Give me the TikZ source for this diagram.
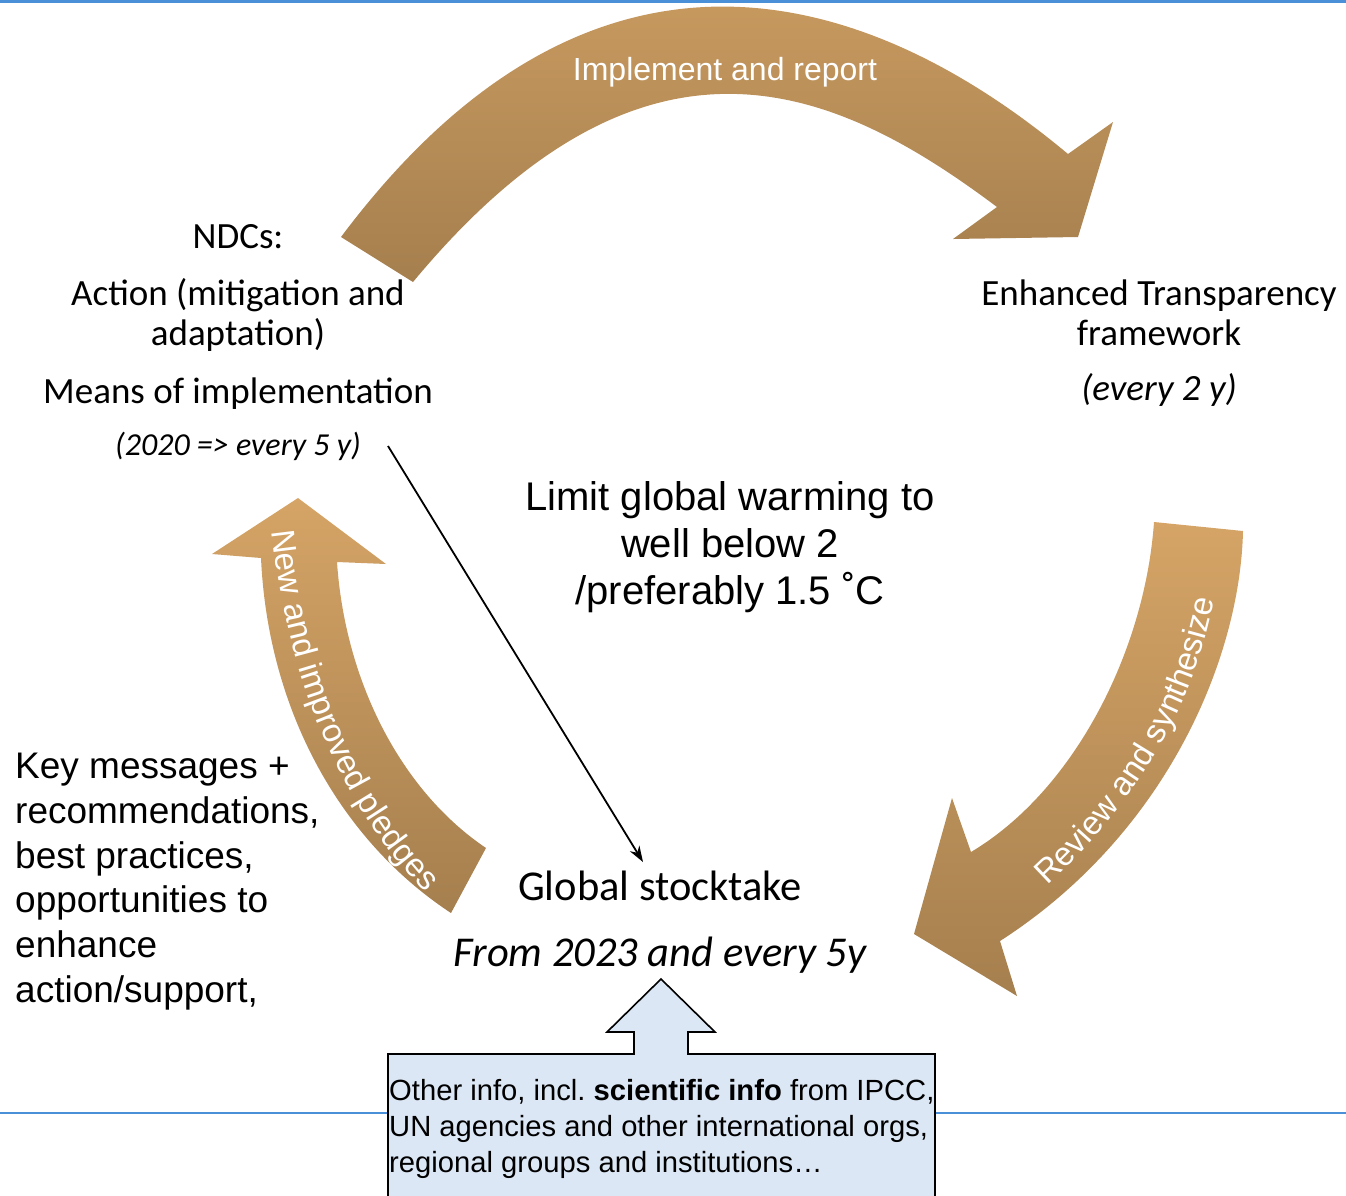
\documentclass[tikz,border=0pt]{standalone}
\usepackage{fontspec}
\setmainfont{Liberation Sans}
\newfontfamily\calfont{Carlito}
\usetikzlibrary{arrows.meta,decorations.text}
\definecolor{arrtop}{RGB}{213,164,102}
\definecolor{arrbot}{RGB}{165,127,78}
\definecolor{boxfill}{RGB}{220,231,245}
\definecolor{rule}{RGB}{74,144,217}
\frenchspacing
\begin{document}
\begin{tikzpicture}[x=1pt,y=-1pt,
  arrowshade/.style={top color=arrtop,bottom color=arrbot,draw=none},
  cal/.style={inner sep=0pt,anchor=base,font=\calfont\fontsize{37}{40}\selectfont},
  calit/.style={inner sep=0pt,anchor=base,font=\calfont\itshape\fontsize{37}{40}\selectfont},
  calsmall/.style={inner sep=0pt,anchor=base,font=\calfont\itshape\fontsize{32}{36}\selectfont},
  calbig/.style={inner sep=0pt,anchor=base,font=\calfont\fontsize{42.5}{46}\selectfont},
  calbigit/.style={inner sep=0pt,anchor=base,font=\calfont\itshape\fontsize{42.5}{46}\selectfont},
  goal/.style={inner sep=0pt,anchor=base,font=\fontsize{40}{46}\selectfont},
  keytxt/.style={inner sep=0pt,anchor=base west,font=\fontsize{37}{44}\selectfont},
  boxtxt/.style={inner sep=0pt,anchor=base west,font=\fontsize{29.2}{36}\selectfont},
  arrlabel/.style={inner sep=0pt,anchor=base,text=white,font=\fontsize{32}{36}\selectfont},
  rulestyle/.style={draw=rule,line width=2.5pt},
  thinarrow/.style={draw=black,line width=1.8pt,-{Stealth[length=16pt,width=11pt]}}
]
\useasboundingbox (0,0) rectangle (1346,1195);

% blue rules
\coordinate (rt1) at (0,1.5);
\coordinate (rt2) at (1346,1.5);
\coordinate (rb1) at (0,1113);
\coordinate (rb2) at (1346,1113);
\draw[rulestyle] (rt1) -- (rt2);
\draw[rulestyle] (rb1) -- (rb2);

% top curved arrow: Implement and report
\path[arrowshade] (341,237) .. controls (607,-118) and (891,6) .. (1068,154)
  -- (1113,122) -- (1078,237) -- (953,239) -- (997,207)
  .. controls (837.5,87.4) and (647,0) .. (413,282) -- cycle;
\node[arrlabel] (impl) at (725,80) {Implement and report};

% right curved arrow: Review and synthesize
\path[arrowshade] (1154,522) .. controls (1145,650) and (1075,790) .. (971,852)
  -- (952,798) -- (914,934) -- (1017,996) -- (1000,941)
  .. controls (1165,835) and (1240,660) .. (1243,531) -- cycle;
\path[decorate,decoration={text along path,text color=white,text align=center,
  text={|\fontsize{33}{38}\selectfont|Review and synthesize}}]
  (1040,892) .. controls (1122,818) and (1192,725) .. (1216,590);

% left curved arrow: New and improved pledges
\path[arrowshade] (298,498) -- (386,564) -- (337,562)
  .. controls (345,680) and (400,790) .. (486,848)
  -- (451,913)
  .. controls (340,840) and (268,710) .. (261,558)
  -- (212,554) -- cycle;
\path[decorate,decoration={text along path,text color=white,text align=center,
  text={|\fontsize{33}{38}\selectfont|New and improved pledges}}]
  (271,524) .. controls (287,680) and (340,805) .. (430,898);

% NDC text
\node[cal] (ndc) at (238,248) {NDCs:};
\node[cal] (act1) at (238,305) {Action (mitigation and};
\node[cal] (act2) at (238,345) {adaptation)};
\node[cal] (moi) at (238,403) {Means of implementation};
\node[calsmall] (ndcfreq) at (238,455) {(2020 => every 5 y)};

% ETF text
\node[cal] (etf1) at (1159,305) {Enhanced Transparency};
\node[cal] (etf2) at (1159,345) {framework};
\node[calit] (etf3) at (1159,400) {(every 2 y)};

% goal
\node[goal] (lim1) at (730,510) {Limit global warming to};
\node[goal] (lim2) at (730,557) {well below 2};
\node[goal] (lim3) at (730,604) {/preferably 1.5 ˚C};

% global stocktake
\node[calbig] (gst) at (660,900) {Global stocktake};
\node[calbigit] (gst2) at (660,966) {From 2023 and every 5y};

% key messages
\node[keytxt] (km1) at (15,778) {Key messages +};
\node[keytxt] (km2) at (15,823) {recommendations,};
\node[keytxt] (km3) at (15,868) {best practices,};
\node[keytxt] (km4) at (15,912) {opportunities to};
\node[keytxt] (km5) at (15,957) {enhance};
\node[keytxt] (km6) at (15,1002) {action/support,};

% thin arrow from NDCs to global stocktake
\coordinate (ts) at (388,446);
\coordinate (te) at (643,862);
\draw[thinarrow] (ts) -- (te);

% info box with up arrow
\path[fill=boxfill,draw=black,line width=1.6pt] (388,1215) -- (388,1054) -- (634,1054)
  -- (634,1032) -- (607,1032) -- (661,979) -- (715,1032) -- (688,1032)
  -- (688,1054) -- (935,1054) -- (935,1215) -- cycle;
\node[boxtxt] (bx1) at (389,1100) {Other info, incl. \textbf{scientific info} from IPCC,};
\node[boxtxt] (bx2) at (389,1136) {UN agencies and other international orgs,};
\node[boxtxt] (bx3) at (389,1172) {regional groups and institutions…};
\end{tikzpicture}
\end{document}
